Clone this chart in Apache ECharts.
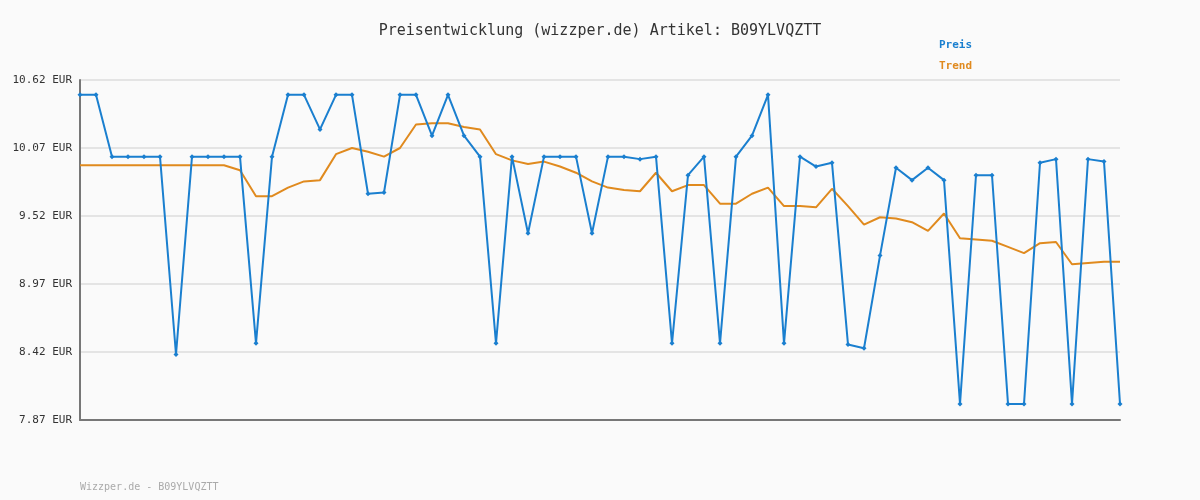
<!DOCTYPE html>
<html>
<head>
<meta charset="utf-8">
<script src="https://cdn.jsdelivr.net/npm/echarts@6/dist/echarts.min.js"></script>
<style>html,body{margin:0;background:#fafafa}#c{width:1200px;height:500px}</style>
</head>
<body>
<div id="c"></div>
<script>
// Preisverlauf, Werte
const preis = [10.50,10.50,10.00,10.00,10.00,10.00,8.40,10.00,10.00,10.00,10.00,8.49,10.00,10.50,10.50,10.22,10.50,10.50,9.70,9.71,
  10.50,10.50,10.17,10.50,10.17,10.00,8.49,10.00,9.38,10.00,10.00,10.00,9.38,10.00,10.00,9.98,10.00,8.49,9.85,10.00,
  8.49,10.00,10.17,10.50,8.49,10.00,9.92,9.95,8.48,8.45,9.20,9.91,9.81,9.91,9.81,8.00,9.85,9.85,8.00,8.00,
  9.95,9.98,8.00,9.98,9.96,8.00];
const trend = [9.93,9.93,9.93,9.93,9.93,9.93,9.93,9.93,9.93,9.93,9.89,9.68,9.68,9.75,9.80,9.81,10.02,10.07,10.04,10.00,
  10.07,10.26,10.27,10.27,10.24,10.22,10.02,9.97,9.94,9.96,9.92,9.87,9.80,9.75,9.73,9.72,9.87,9.72,9.77,9.77,
  9.62,9.62,9.70,9.75,9.60,9.60,9.59,9.74,9.60,9.45,9.51,9.50,9.47,9.40,9.54,9.34,9.33,9.32,9.27,9.22,
  9.30,9.31,9.13,9.14,9.15,9.15];
const tage = preis.map((_, i) => String(i + 1));

const mono = 'DejaVu Sans Mono';
const chart = echarts.init(document.getElementById('c'));
chart.setOption({
    backgroundColor: '#fafafa',
    animation: false,
    title: { text: 'Preisentwicklung (wizzper.de) Artikel: B09YLVQZTT', left: 'center', top: 19,
        textStyle: { fontFamily: mono, fontSize: 15, fontWeight: 'normal', color: '#333' } },
    graphic: [
        { type: 'text', left: 80, top: 482, style: { text: 'Wizzper.de - B09YLVQZTT', fill: '#aaa', font: '10px ' + mono } },
        { type: 'text', left: 939, top: 40, style: { text: 'Preis', fill: '#1a7fcf', font: 'bold 11px ' + mono } },
        { type: 'text', left: 939, top: 61, style: { text: 'Trend', fill: '#e08a1e', font: 'bold 11px ' + mono } }
    ],
    grid: { left: 80, right: 80, top: 80, bottom: 80 },
    xAxis: { type: 'category', data: tage, boundaryGap: false,
        axisLine: { lineStyle: { color: '#777', width: 2 } }, axisTick: { show: false }, axisLabel: { show: false } },
    yAxis: { type: 'value', min: 7.87, max: 10.62, interval: 0.55,
        axisLine: { show: true, lineStyle: { color: '#777', width: 2 } }, axisTick: { show: false },
        splitLine: { lineStyle: { color: '#e4e4e4', width: 2 } },
        axisLabel: { formatter: v => v.toFixed(2) + ' EUR', fontFamily: mono, fontSize: 11, color: '#333', margin: 8 } },
    series: [
        { name: 'Trend', type: 'line', data: trend, symbol: 'none', z: 1,
            lineStyle: { color: '#e08a1e', width: 2 } },
        { name: 'Preis', type: 'line', data: preis, symbol: 'diamond', symbolSize: 5, z: 2,
            itemStyle: { color: '#1a7fcf' }, lineStyle: { color: '#1a7fcf', width: 2 } }
    ]
});
</script>
</body>
</html>
